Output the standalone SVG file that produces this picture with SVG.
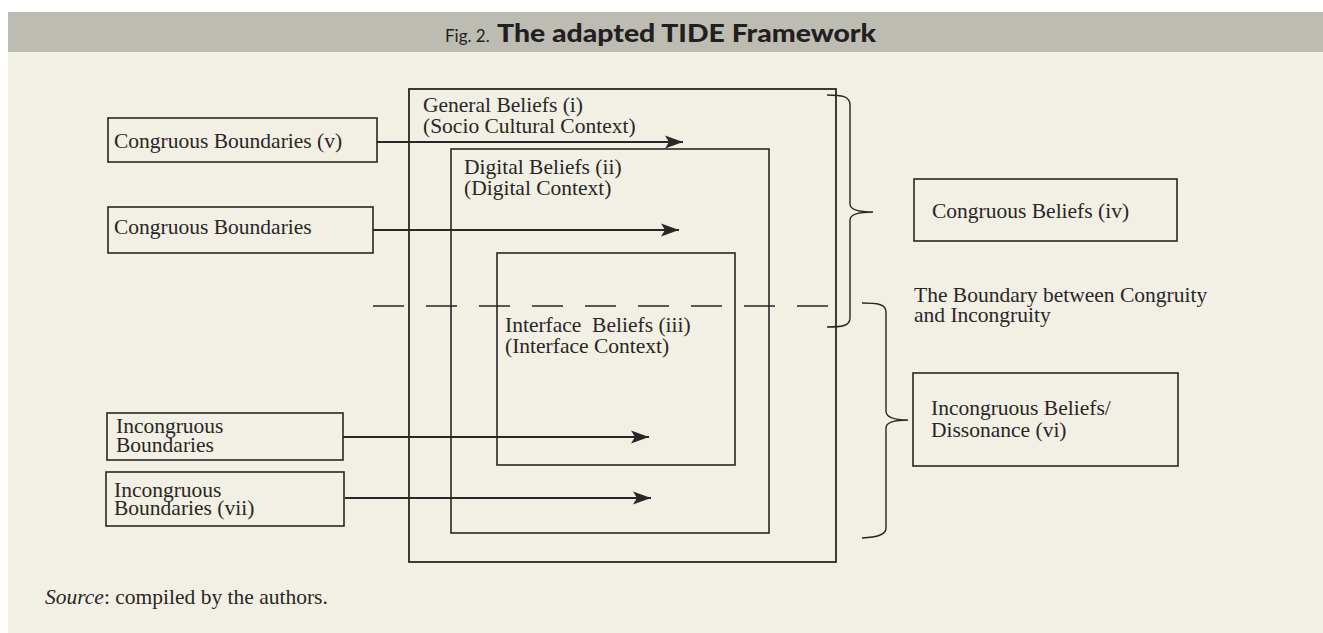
<svg xmlns="http://www.w3.org/2000/svg" width="1323" height="633" viewBox="0 0 1323 633">
<defs>
<style>
.t{font-family:"Liberation Serif","Times New Roman",serif;font-size:21.5px;fill:#2a2627}
.box{fill:none;stroke:#2a2627;stroke-width:1.6}
.frame{fill:none;stroke:#2a2627;stroke-width:1.8}
.arr{fill:none;stroke:#2a2627;stroke-width:2.2}
.brace{fill:none;stroke:#2a2627;stroke-width:1.4}
.title{font-family:Lato,"DejaVu Sans",sans-serif;fill:#231f20}
</style>
<marker id="ah" markerUnits="userSpaceOnUse" markerWidth="20" markerHeight="14" refX="18" refY="7" orient="auto">
<path d="M0,0.5 L18,7 L0,13.5 L4,7 Z" fill="#2a2627"/>
</marker>
</defs>
<rect x="0" y="0" width="1323" height="633" fill="#ffffff"/>
<rect x="8" y="12" width="1315" height="40" fill="#bdbcb2"/>
<rect x="8" y="52" width="1315" height="581" fill="#f2efe4"/>
<g id="title">
<text class="title" x="445" y="42" font-size="17">Fig. 2.</text>
<text class="title" x="497" y="42" font-size="25" font-weight="900" textLength="379" lengthAdjust="spacingAndGlyphs">The adapted TIDE Framework</text>
</g>
<g id="general-beliefs">
<rect class="frame" x="409" y="89" width="427" height="473"/>
<text class="t" x="423" y="112">General Beliefs (i)</text>
<text class="t" x="423" y="133">(Socio Cultural Context)</text>
</g>
<g id="digital-beliefs">
<rect class="box" x="451" y="149" width="318" height="384"/>
<text class="t" x="464" y="174">Digital Beliefs (ii)</text>
<text class="t" x="464" y="195">(Digital Context)</text>
</g>
<g id="interface-beliefs">
<rect class="box" x="497" y="253" width="238" height="212"/>
<text class="t" x="505" y="332" xml:space="preserve">Interface  Beliefs (iii)</text>
<text class="t" x="505" y="353">(Interface Context)</text>
</g>
<g id="boundary-line">
<line x1="373" y1="306" x2="837" y2="306" stroke="#2a2627" stroke-width="1.6" stroke-dasharray="31 22"/>
<text class="t" x="914" y="302">The Boundary between Congruity</text>
<text class="t" x="914" y="322">and Incongruity</text>
</g>
<g id="congruous-boundaries-v">
<rect class="box" x="108" y="118" width="269" height="44"/>
<text class="t" x="114" y="148">Congruous Boundaries (v)</text>
</g>
<g id="congruous-boundaries">
<rect class="box" x="108" y="207" width="265" height="46"/>
<text class="t" x="114" y="234">Congruous Boundaries</text>
</g>
<g id="incongruous-boundaries">
<rect class="box" x="107" y="413" width="236" height="47"/>
<text class="t" x="116" y="433">Incongruous</text>
<text class="t" x="116" y="452">Boundaries</text>
</g>
<g id="incongruous-boundaries-vii">
<rect class="box" x="106" y="472" width="238" height="54" stroke="#555"/>
<text class="t" x="114" y="497">Incongruous</text>
<text class="t" x="114" y="515">Boundaries (vii)</text>
</g>
<g id="congruous-beliefs-iv">
<rect class="box" x="914" y="179" width="263" height="62"/>
<text class="t" x="932" y="218">Congruous Beliefs (iv)</text>
</g>
<g id="incongruous-beliefs-vi">
<rect class="box" x="913" y="373" width="265" height="93"/>
<text class="t" x="931" y="415">Incongruous Beliefs/</text>
<text class="t" x="931" y="437">Dissonance (vi)</text>
</g>
<g id="connectors">
<line class="arr" x1="377" y1="142" x2="683" y2="142" marker-end="url(#ah)"/>
<line class="arr" x1="373" y1="230" x2="679" y2="230" marker-end="url(#ah)"/>
<line class="arr" x1="343" y1="437" x2="649" y2="437" marker-end="url(#ah)"/>
<line class="arr" x1="345" y1="498" x2="651" y2="498" marker-end="url(#ah)"/>
<path class="brace" d="M827,95 C842,95 850,96 850,105 L850,204 C850,210 858,212 873,212 C858,212 850,214 850,220 L850,318 C850,326 842,327 827,327"/>
<path class="brace" d="M862,303 C877,303 886,304 886,312 L886,411 C886,417 894,420 908,420 C894,420 886,422 886,428 L886,528 C886,535 877,537 862,538"/>
</g>
<g id="source">
<text class="t" x="45" y="604"><tspan font-style="italic">Source</tspan>: compiled by the authors.</text>
</g>
</svg>
